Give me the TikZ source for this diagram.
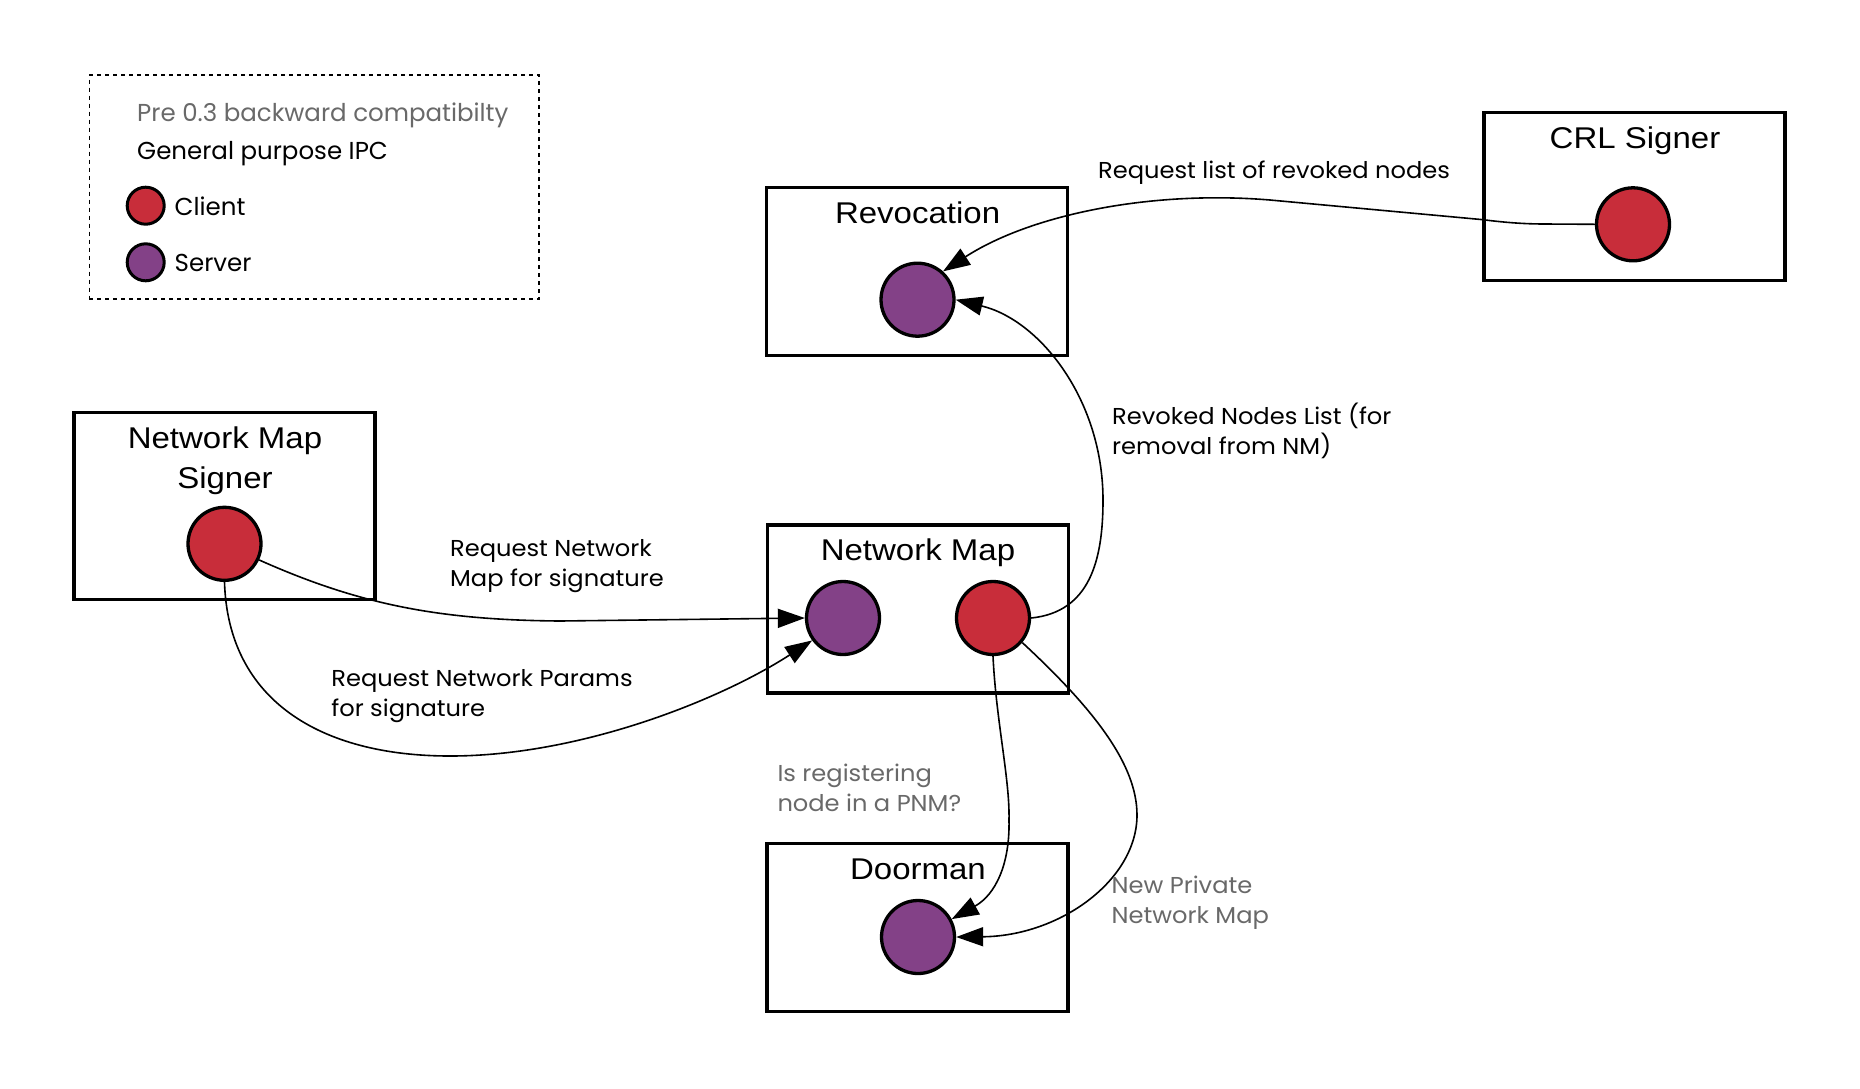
\documentclass[tikz,border=0pt]{standalone}
\usepackage{fontspec}
\setmainfont{Poppins}
\newfontfamily\lblfont[FakeStretch=1.05]{Poppins}
\newfontfamily\titlefont[FakeStretch=1.1]{Liberation Sans}
\usetikzlibrary{arrows.meta}
\definecolor{cred}{RGB}{200,45,58}
\definecolor{cpurple}{RGB}{131,65,135}
\definecolor{cgray}{RGB}{105,105,105}
\begin{document}
\begin{tikzpicture}[x=1pt,y=-1pt,
 box/.style={draw, line width=3.3pt, minimum width=301pt, minimum height=168pt, inner sep=0pt},
 ttl/.style={font=\titlefont\fontsize{30}{40}\selectfont, inner sep=0pt, anchor=base, align=center},
 cli/.style={circle, draw, line width=3.3pt, fill=cred, minimum size=73pt, inner sep=0pt},
 srv/.style={circle, draw, line width=3.3pt, fill=cpurple, minimum size=73pt, inner sep=0pt},
 lbl/.style={font=\lblfont\fontsize{23}{30}\selectfont, inner sep=0pt, anchor=base west, align=left},
 leg/.style={font=\fontsize{24.5}{30}\selectfont, inner sep=0pt, anchor=base west},
 conn/.style={line width=1.6pt, -{Triangle[length=27pt,width=19pt]}},
]
\useasboundingbox (0,0) rectangle (1860,1088);
\fill[white] (0,0) rectangle (1860,1088);

% legend
\node[draw, line width=1.3pt, dash pattern=on 4pt off 4pt, minimum width=449.7pt, minimum height=224pt, inner sep=0pt] (legend) at (314.2,187) {};
\node[leg, text=cgray] (lpre) at (137,121.7) {Pre 0.3 backward compatibilty};
\node[leg] (lgen) at (137,159.3) {General purpose IPC};
\node[cli, minimum size=37pt, line width=3pt] (lcli) at (145.7,205.7) {};
\node[leg] (lclit) at (174.5,215.3) {Client};
\node[srv, minimum size=37pt, line width=3pt] (lsrv) at (145.7,262.3) {};
\node[leg] (lsrvt) at (174.5,271.7) {Server};

% boxes
\node[box] (revbox) at (917.3,271.5) {};
\node[box] (crlbox) at (1634.4,196.7) {};
\node[box, minimum height=187pt] (nmsbox) at (224.5,505.7) {};
\node[box] (nmbox) at (917.7,608.9) {};
\node[box] (doorbox) at (917.6,927.5) {};

% titles
\node[ttl] (revt) at (917.6,223.3) {Revocation};
\node[ttl] (crlt) at (1635,148.3) {CRL Signer};
\node[ttl] (nmst) at (225,488.3) {Network Map\\Signer};
\node[ttl] (nmt) at (918,560) {Network Map};
\node[ttl] (doort) at (918,879.3) {Doorman};

% circles
\node[srv] (revs) at (917.5,299.7) {};
\node[cli] (crlc) at (1633,224.3) {};
\node[cli] (nmsc) at (224.5,543.8) {};
\node[srv] (nms) at (843,618) {};
\node[cli] (nmc) at (993,618) {};
\node[srv] (doors) at (918,937) {};

% connectors
\draw[conn] (crlc.west) -- (1545,224) .. controls (1518,224) and (1498,221.5) .. (1481,219.5) -- (1270,200) .. controls (1150,190) and (1030,215) .. (revs.48);
\draw[conn] (nmc.east) .. controls (1090,612) and (1103,560) .. (1103,500) .. controls (1103,400) and (1040,320) .. (revs.east);
\draw[conn] (nmsc.-25) .. controls (360,605) and (440,620) .. (560,621) -- (nms.west);
\draw[conn] (nmsc.south) .. controls (228,700) and (320,756) .. (450,756) .. controls (580,756) and (720,700) .. (nms.216);
\draw[conn] (nmc.south) .. controls (996,720) and (1010,780) .. (1009,820) .. controls (1010,865) and (995,895) .. (doors.28);
\draw[conn] (nmc.-40) .. controls (1095,710) and (1137,765) .. (1137,815) .. controls (1137,880) and (1060,936) .. (doors.east);

% labels
\node[lbl] (l1) at (1098,178.3) {Request list of revoked nodes};
\node[lbl] (l2) at (1112,454) {Revoked Nodes List (for\\removal from NM)};
\node[lbl] (l3) at (450,586.7) {Request Network\\Map for signature};
\node[lbl] (l4) at (331.2,716.7) {Request Network Params\\for signature};
\node[lbl, text=cgray] (l5) at (777.3,811) {Is registering\\node in a PNM?};
\node[lbl, text=cgray] (l6) at (1111.4,923.3) {New Private\\Network Map};
\end{tikzpicture}
\end{document}
